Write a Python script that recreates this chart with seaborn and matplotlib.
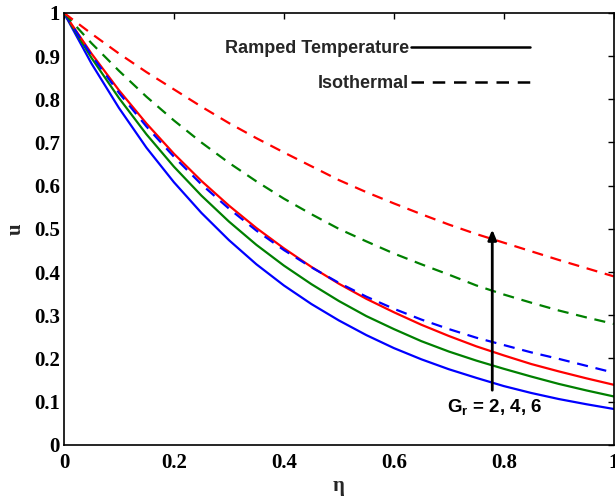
import matplotlib
matplotlib.use("Agg")
import pandas as pd
import matplotlib.pyplot as plt
import seaborn as sns
from matplotlib.lines import Line2D

# ------------------------------------------
# Data
# ------------------------------------------

eta = [0, 0.05, 0.1, 0.15, 0.2, 0.25, 0.3, 0.35, 0.4, 0.45, 0.5,
       0.55, 0.6, 0.65, 0.7, 0.75, 0.8, 0.85, 0.9, 0.95, 1.0]

gr_values = [2, 4, 6]
gr_colors = ["#0000ff", "#008000", "#ff0000"]

ramped_gr2 = [1, .883, .780, .688, .608, .537, .474, .418, .369, .326, .288,
              .254, .224, .198, .175, .155, .136, .120, .106, .094, .083]
ramped_gr4 = [1, .896, .803, .719, .644, .577, .517, .463, .415, .372, .333,
              .298, .268, .240, .216, .195, .176, .158, .141, .126, .112]
ramped_gr6 = [1, .906, .821, .744, .674, .611, .554, .502, .455, .412, .373,
              .338, .307, .278, .252, .228, .207, .187, .170, .154, .139]

iso_gr2 = [1, .902, .815, .737, .667, .603, .547, .496, .451, .411, .375,
           .343, .315, .290, .268, .248, .231, .214, .199, .183, .167]
iso_gr4 = [1, .930, .866, .806, .751, .700, .653, .610, .570, .534, .500,
           .471, .443, .418, .394, .369, .348, .329, .311, .295, .280]
iso_gr6 = [1, .952, .906, .863, .823, .783, .745, .710, .677, .645, .613,
           .585, .559, .534, .510, .488, .468, .448, .428, .409, .390]

x_ticks = [0, 0.2, 0.4, 0.6, 0.8, 1]
x_tick_labels = ["0", "0.2", "0.4", "0.6", "0.8", "1"]
y_ticks = [0, 0.1, 0.2, 0.3, 0.4, 0.5, 0.6, 0.7, 0.8, 0.9, 1]
y_tick_labels = ["0", "0.1", "0.2", "0.3", "0.4", "0.5",
                 "0.6", "0.7", "0.8", "0.9", "1"]


def to_frame(case, series):
    rows = []
    for gr, values in zip(gr_values, series):
        for x, u in zip(eta, values):
            rows.append({"eta": x, "u": u, "Gr": gr, "case": case})
    return pd.DataFrame(rows)


ramped = to_frame("Ramped", [ramped_gr2, ramped_gr4, ramped_gr6])
iso = to_frame("Isothermal", [iso_gr2, iso_gr4, iso_gr6])

# ------------------------------------------
# Style
# ------------------------------------------

sns.set_style("white")
plt.rcParams["font.family"] = ["Liberation Serif", "DejaVu Serif"]
plt.rcParams["mathtext.fontset"] = "custom"
plt.rcParams["mathtext.rm"] = "Liberation Sans:bold"
plt.rcParams["mathtext.bf"] = "Liberation Sans:bold"
plt.rcParams["mathtext.it"] = "Liberation Sans:bold"

fig = plt.figure(figsize=(6.15, 4.97), dpi=100)
ax = fig.add_axes([0.104, 0.105, 0.894, 0.869])

palette = dict(zip(gr_values, gr_colors))

sns.lineplot(data=ramped, x="eta", y="u", hue="Gr", palette=palette,
             linewidth=1.6, legend=False, ax=ax)
sns.lineplot(data=iso, x="eta", y="u", hue="Gr", palette=palette,
             linewidth=1.6, legend=False, ax=ax)
for line in ax.lines[3:]:
    line.set_dashes((5, 3.5))

ax.set_xlim(0, 1)
ax.set_ylim(0, 1)
ax.set_xticks(x_ticks)
ax.set_xticklabels(x_tick_labels)
ax.set_yticks(y_ticks)
ax.set_yticklabels(y_tick_labels)

for side in ["left", "right", "top", "bottom"]:
    ax.spines[side].set_visible(True)
    ax.spines[side].set_color("black")
    ax.spines[side].set_linewidth(1.2)

ax.tick_params(direction="in", length=4, width=1, top=True, right=True,
               labelsize=15, colors="black")
ax.tick_params(axis="x", pad=6)
ax.tick_params(axis="y", pad=3)
for lab in ax.get_xticklabels() + ax.get_yticklabels():
    lab.set_fontweight("bold")

ax.set_xlabel("η", fontsize=15, fontweight="bold", labelpad=2)
ax.set_ylabel("u", fontsize=15, fontweight="bold", labelpad=6)

# ------------------------------------------
# Legend (label first, line after)
# ------------------------------------------

handles = [Line2D([], [], color="black", linewidth=1.8),
           Line2D([], [], color="black", linewidth=1.8, dashes=(5, 3.5))]
leg = ax.legend(handles, ["Ramped Temperature", "Isothermal"],
                markerfirst=False, frameon=False, loc="upper right",
                bbox_to_anchor=(0.848, 0.937), borderaxespad=0, borderpad=0,
                handlelength=6.6, handletextpad=0.1, labelspacing=0.98,
                prop={"family": "Liberation Sans", "weight": "bold",
                      "size": 13})

# ------------------------------------------
# Arrow and Gr annotation
# ------------------------------------------

ax.annotate("", xy=(0.779, 0.505), xytext=(0.779, 0.12),
            arrowprops=dict(arrowstyle="-|>,head_length=0.6,head_width=0.25",
                            color="black", lw=2))
ax.text(0.697, 0.076, r"$\mathbf{G_r}$ = 2, 4, 6", fontsize=13.5,
        fontweight="bold", family="Liberation Sans", color="black",
        ha="left", va="baseline")

fig.savefig("out.png", dpi=100)
